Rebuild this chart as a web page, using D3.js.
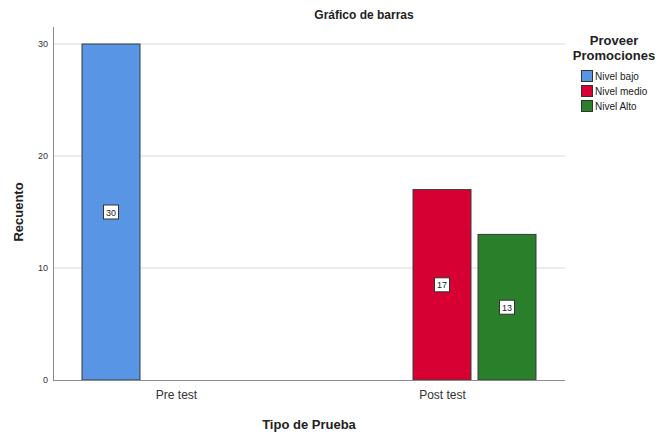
<!DOCTYPE html>
<html lang=es>
<meta charset=utf-8>
<title>Gráfico de barras</title>
<style>
  body { margin: 0; background: #fff; }
  svg { font-family: "Liberation Sans", Arial, sans-serif; display: block; }
</style>
<svg id=chart width=662 height=432></svg>
<script src="https://cdn.jsdelivr.net/npm/d3@7/dist/d3.min.js"></script>
<script>
// datos
var categories = ["Pre test", "Post test"];
var levels = ["Nivel bajo", "Nivel medio", "Nivel Alto"];
var counts = [
  [30, 0, 0],   // Pre test
  [0, 17, 13]   // Post test
];
var yTicks = [0, 10, 20, 30];
var colors = ["#5896e5", "#d60032", "#2a7f2a"];

var svg = d3.select("#chart");
var left = 53, right = 565, plotTop = 27, bottom = 380;

var y = d3.scaleLinear().domain([0, 30]).range([bottom, 44]);
var x = d3.scalePoint().domain(categories).range([left, right]).padding(0.4624);
var sub = d3.scaleBand().domain(levels).range([-97.5, 97.5]).paddingInner(0.108).paddingOuter(0.054);

// rejilla
svg.append("g").selectAll("line").data(yTicks.slice(1)).enter().append("line")
  .attr("x1", left).attr("x2", right)
  .attr("y1", function (d) { return y(d); }).attr("y2", function (d) { return y(d); })
  .attr("stroke", "#d9d9d9").attr("stroke-width", 1);

// barras
var gbar = svg.append("g");
categories.forEach(function (c, i) {
  levels.forEach(function (l, j) {
    var v = counts[i][j];
    if (!v) return;
    var bx = x(c) + sub(l);
    gbar.append("rect")
      .attr("x", bx).attr("y", y(v))
      .attr("width", sub.bandwidth()).attr("height", y(0) - y(v))
      .attr("fill", colors[j]).attr("stroke", "#3a3a3a").attr("stroke-width", 1);
    var cx = bx + sub.bandwidth() / 2, cy = (y(v) + y(0)) / 2;
    gbar.append("rect")
      .attr("x", cx - 7.5).attr("y", cy - 7).attr("width", 15).attr("height", 14)
      .attr("fill", "#fff").attr("stroke", "#333").attr("stroke-width", 1);
    gbar.append("text")
      .attr("x", cx).attr("y", cy + 3.5)
      .attr("text-anchor", "middle").attr("font-size", 9).attr("fill", "#222")
      .text(v);
  });
});

// ejes
var yAxis = svg.append("g").attr("transform", "translate(" + left + ",0)")
  .call(d3.axisLeft(y).tickValues(yTicks).tickSize(0).tickPadding(5));
yAxis.select(".domain").remove();
yAxis.selectAll("text").attr("font-size", 9).attr("fill", "#333").attr("font-family", "Liberation Sans, Arial, sans-serif");
svg.append("line").attr("x1", left + 0.5).attr("x2", left + 0.5).attr("y1", plotTop).attr("y2", bottom)
  .attr("stroke", "#8c8c8c");

var xAxis = svg.append("g").attr("transform", "translate(0," + bottom + ")")
  .call(d3.axisBottom(x).tickSize(0).tickPadding(10));
xAxis.select(".domain").remove();
xAxis.selectAll("text").attr("font-size", 12).attr("fill", "#333").attr("font-family", "Liberation Sans, Arial, sans-serif");
svg.append("line").attr("x1", left).attr("x2", right).attr("y1", bottom + 0.5).attr("y2", bottom + 0.5)
  .attr("stroke", "#8c8c8c");

// títulos
svg.append("text").attr("x", 364).attr("y", 19).attr("text-anchor", "middle")
  .attr("font-size", 12).attr("font-weight", "bold").attr("fill", "#222").text("Gráfico de barras");
svg.append("text").attr("x", 309).attr("y", 429).attr("text-anchor", "middle")
  .attr("font-size", 13).attr("font-weight", "bold").attr("fill", "#222").text("Tipo de Prueba");
svg.append("text").attr("transform", "translate(23,212) rotate(-90)").attr("text-anchor", "middle")
  .attr("font-size", 13).attr("font-weight", "bold").attr("fill", "#222").text("Recuento");

// leyenda
var leg = svg.append("g");
leg.append("text").attr("x", 614).attr("y", 45).attr("text-anchor", "middle")
  .attr("font-size", 13).attr("font-weight", "bold").attr("fill", "#222").text("Proveer");
leg.append("text").attr("x", 614).attr("y", 60).attr("text-anchor", "middle")
  .attr("font-size", 13).attr("font-weight", "bold").attr("fill", "#222").text("Promociones");
levels.forEach(function (l, j) {
  var ly = 70 + j * 15;
  leg.append("rect").attr("x", 581.5).attr("y", ly + 0.5).attr("width", 11).attr("height", 11)
    .attr("fill", colors[j]).attr("stroke", "#333").attr("stroke-width", 1);
  leg.append("text").attr("x", 595).attr("y", ly + 10).attr("font-size", 10).attr("fill", "#222").text(l);
});
</script>
